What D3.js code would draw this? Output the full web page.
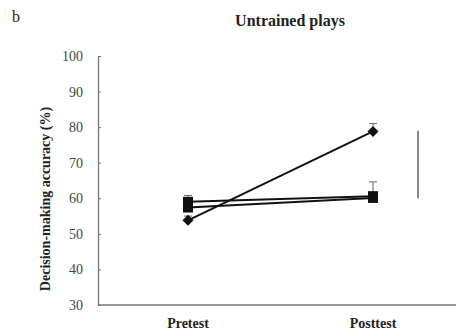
<!DOCTYPE html>
<html><head><meta charset="utf-8">
<script src="https://cdn.jsdelivr.net/npm/d3@7"></script>
<style>body{margin:0;background:#fff}svg{display:block}</style>
</head><body><svg id="c" width="456" height="336"></svg>
<script>
const phases = ["Pretest", "Posttest"];
const yTicks = [30, 40, 50, 60, 70, 80, 90, 100];
const seriesNames = ["A", "B", "C"];
const seriesMarkers = ["diamond", "square", "square"];
const seriesValues = [[53.8, 78.8], [59.0, 60.6], [57.4, 60.1]];
const seriesErrors = [[1.2, 2.2], [1.8, 4.0], [1.5, 1.5]];
const bracketRange = [60, 79];

const svg = d3.select("#c");
const font = "'Liberation Serif','DejaVu Serif',serif";
const y = d3.scaleLinear().domain([30, 100]).range([305, 56]);
const x = d3.scalePoint().domain(phases).range([188, 373]);
const axisX0 = 98, axisX1 = 456;

svg.append("text").attr("x", 12).attr("y", 22).attr("font-family", font)
  .attr("font-size", 16).attr("fill", "#222").text("b");
svg.append("text").attr("x", 290).attr("y", 26).attr("text-anchor", "middle")
  .attr("font-family", font).attr("font-size", 16).attr("font-weight", "bold").attr("fill", "#222").text("Untrained plays");

// y axis
const ya = svg.append("g").attr("transform", `translate(${axisX0},0)`)
  .call(d3.axisLeft(y).tickValues(yTicks).tickSizeInner(-3).tickSizeOuter(0).tickPadding(15));
ya.select(".domain").attr("stroke", "#777").attr("stroke-width", 1.3);
ya.selectAll(".tick line").attr("stroke", "#777");
ya.selectAll(".tick text").attr("font-family", font).attr("font-size", 14).attr("fill", "#444");

// x axis line
svg.append("line").attr("x1", axisX0).attr("x2", axisX1).attr("y1", y(30)).attr("y2", y(30))
  .attr("stroke", "#777").attr("stroke-width", 1.3);
svg.selectAll(".xl").data(phases).enter().append("text")
  .attr("x", d => x(d)).attr("y", 328).attr("text-anchor", "middle")
  .attr("font-family", font).attr("font-size", 14).attr("font-weight", "bold").attr("fill", "#222").text(d => d);

svg.append("text").attr("transform", `translate(50,199) rotate(-90)`).attr("text-anchor", "middle")
  .attr("font-family", font).attr("font-size", 14).attr("font-weight", "bold").attr("fill", "#222")
  .text("Decision-making accuracy (%)");

// error bars
seriesValues.forEach((vals, si) => {
  vals.forEach((v, i) => {
    const cx = x(phases[i]), top = y(v + seriesErrors[si][i]);
    svg.append("line").attr("x1", cx).attr("x2", cx).attr("y1", y(v)).attr("y2", top).attr("stroke", "#666").attr("stroke-width", 1);
    svg.append("line").attr("x1", cx - 4).attr("x2", cx + 4).attr("y1", top).attr("y2", top).attr("stroke", "#666").attr("stroke-width", 1);
  });
});

// lines
const line = d3.line().x((d, i) => x(phases[i])).y(d => y(d));
seriesValues.forEach(vals => {
  svg.append("path").attr("d", line(vals)).attr("fill", "none").attr("stroke", "#111").attr("stroke-width", 2);
});

// markers
seriesValues.forEach((vals, si) => {
  const isDia = seriesMarkers[si] === "diamond";
  vals.forEach((v, i) => {
    svg.append("path").attr("d", d3.symbol().type(d3.symbolSquare).size(isDia ? 60 : 100)())
      .attr("transform", `translate(${x(phases[i])},${y(v)})` + (isDia ? " rotate(45)" : "")).attr("fill", "#111");
  });
});

// bracket line
svg.append("line").attr("x1", 418).attr("x2", 418).attr("y1", y(bracketRange[1])).attr("y2", y(bracketRange[0]))
  .attr("stroke", "#888").attr("stroke-width", 2);
</script></body></html>
